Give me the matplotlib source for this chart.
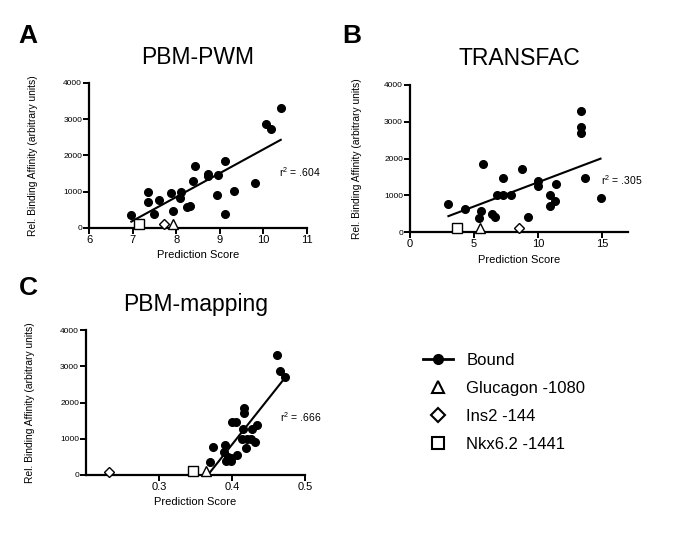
import numpy as np
import matplotlib.pyplot as plt
from matplotlib.lines import Line2D

plt.rcParams['font.family'] = ['Liberation Sans', 'DejaVu Sans']
plt.rcParams['mathtext.default'] = 'regular'

# ---- data ----
# A: PBM-PWM
pwm_x = [6.97, 7.36, 7.36, 7.49, 7.61, 7.88, 7.93, 8.11, 8.09, 8.24, 8.31, 8.39,
         8.44, 8.72, 8.73, 8.97, 8.94, 9.12, 9.13, 9.33, 9.82, 10.07, 10.17, 10.40]
pwm_y = [349, 993, 708, 386, 772, 975, 478, 993, 837, 570, 607, 1297,
         1720, 1425, 1480, 1471, 920, 1857, 395, 1011, 1250, 2878, 2722, 3320]
pwm_ctrl_x = [7.93, 7.73, 7.15]   # Glucagon, Ins2, Nkx6.2
pwm_ctrl_y = [100, 100, 120]

# B: TRANSFAC
tf_x = [3.0, 4.32, 5.72, 5.51, 5.35, 6.41, 6.65, 6.78, 7.27, 7.27, 7.89, 8.77,
        9.23, 9.98, 9.98, 10.91, 10.91, 11.30, 11.40, 13.32, 13.32, 13.32, 13.63, 14.87]
tf_y = [773, 627, 1855, 564, 373, 500, 418, 1000, 1000, 1473, 1018, 1709,
        409, 1391, 1264, 1000, 718, 836, 1309, 3300, 2864, 2700, 1473, 936]
tf_ctrl_x = [5.5, 8.5, 3.7]
tf_ctrl_y = [100, 118, 118]

# C: PBM-mapping
map_x = [0.370, 0.374, 0.390, 0.389, 0.391, 0.395, 0.398, 0.399, 0.407, 0.400, 0.405, 0.416,
         0.416, 0.415, 0.414, 0.419, 0.421, 0.426, 0.427, 0.434, 0.432, 0.462, 0.465, 0.472]
map_y = [358, 761, 826, 624, 376, 486, 394, 477, 560, 1468, 1468, 1844,
         1706, 1275, 1000, 743, 1000, 1000, 1257, 1367, 917, 3303, 2872, 2716]
map_ctrl_x = [0.364, 0.232, 0.347]
map_ctrl_y = [100, 92, 101]

r2_labels = ['.604', '.305', '.666']
ctrl_names = ['Glucagon -1080', 'Ins2 -144', 'Nkx6.2 -1441']
ctrl_markers = ['^', 'D', 's']
ctrl_sizes = [6.5, 5.0, 7.0]

fig = plt.figure(figsize=(6.85, 5.41), dpi=100)

panels = [
    # rect, title, letter pos, x, y, ctrl x, ctrl y, xlim, xticks, r2 pos, ylabel x
    ([0.130, 0.5786, 0.318, 0.268], 'PBM-PWM', (0.041, 0.933), pwm_x, pwm_y,
     pwm_ctrl_x, pwm_ctrl_y, (6, 11), [6, 7, 8, 9, 10, 11], (10.36, 1545), -0.234),
    ([0.5985, 0.571, 0.318, 0.272], 'TRANSFAC', (0.514, 0.933), tf_x, tf_y,
     tf_ctrl_x, tf_ctrl_y, (0, 17), [0, 5, 10, 15], (14.87, 1409), -0.22),
    ([0.1255, 0.122, 0.320, 0.268], 'PBM-mapping', (0.041, 0.468), map_x, map_y,
     map_ctrl_x, map_ctrl_y, (0.2, 0.5), [0.3, 0.4, 0.5], (0.466, 1596), -0.233),
]

for i, (rect, title, letter, x, y, cx, cy, xlim, xticks, r2pos, ylx) in enumerate(panels):
    ax = fig.add_axes(rect)
    x = np.array(x)
    y = np.array(y)
    # regression line for bound probes
    m, b = np.polyfit(x, y, 1)
    xl = np.array([x.min(), x.max()])
    ax.plot(xl, m * xl + b, color='black', lw=1.5, zorder=2)
    ax.plot(x, y, 'o', color='black', ms=5.5, zorder=3, clip_on=False)
    for j in range(3):
        ax.plot(cx[j], cy[j], ctrl_markers[j], mfc='white', mec='black', mew=1.0,
                ms=ctrl_sizes[j], zorder=4, clip_on=False)
    ax.set_xlim(*xlim)
    ax.set_ylim(0, 4000)
    ax.set_xticks(xticks)
    if i == 2:
        ax.set_xticklabels(['0.3', '0.4', '0.5'])
    ax.set_yticks([0, 1000, 2000, 3000, 4000])
    for s in ['top', 'right']:
        ax.spines[s].set_visible(False)
    for s in ['left', 'bottom']:
        ax.spines[s].set_linewidth(1.6)
    ax.tick_params(axis='both', direction='out', length=4, width=1.4, pad=1)
    ax.tick_params(axis='x', labelsize=8)
    ax.tick_params(axis='y', labelsize=6)
    ax.set_xlabel('Prediction Score', fontsize=8, labelpad=4)
    ax.set_ylabel('Rel. Binding Affinity (arbitrary units)', fontsize=7.4)
    ax.yaxis.set_label_coords(ylx, 0.5)
    ax.set_title(title, fontsize=16.5, pad=14)
    ax.text(r2pos[0], r2pos[1], 'r$^2$ = ' + r2_labels[i], fontsize=7.5,
            ha='left', va='center')
    fig.text(letter[0], letter[1], 'ABC'[i], fontsize=19, fontweight='bold',
             ha='center', va='center')

handles = [Line2D([], [], color='black', lw=2, marker='o', ms=7)]
for j in range(3):
    handles.append(Line2D([], [], ls='none', marker=ctrl_markers[j], mfc='white',
                          mec='black', mew=1.5, ms=[8, 7, 9][j]))
fig.legend(handles, ['Bound'] + ctrl_names, loc='upper left',
           bbox_to_anchor=(0.6175, 0.348), frameon=False, fontsize=12,
           borderpad=0, borderaxespad=0,
           handlelength=1.8, handletextpad=0.8, labelspacing=0.78)

plt.savefig('out.png', dpi=100)
